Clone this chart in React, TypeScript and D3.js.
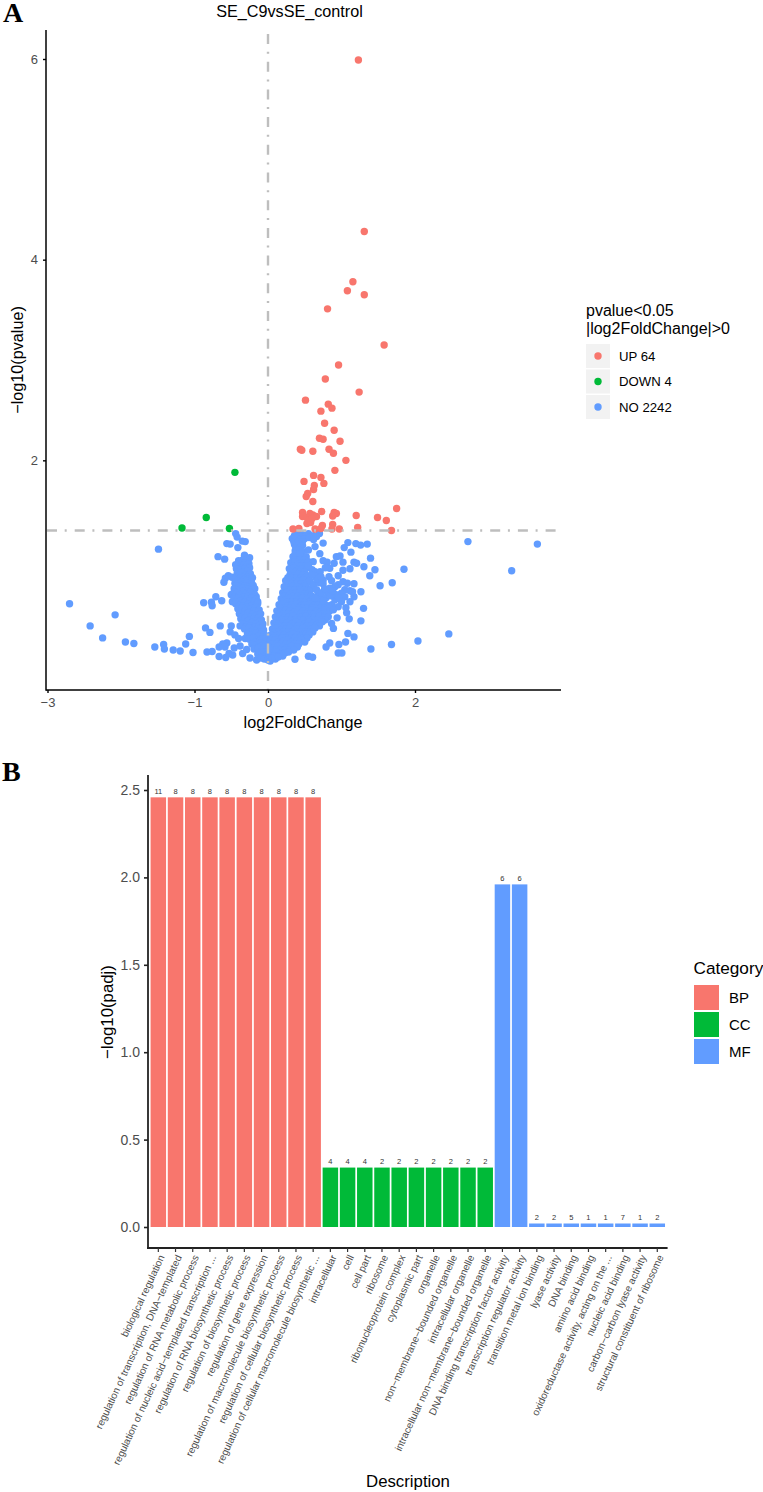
import React, { useEffect, useRef } from "react";
import { axisBottom, axisLeft, scaleBand, scaleLinear, select } from "d3";

const W = 763;
const H = 1492;
const red = "#F8766D";
const green = "#00BA38";
const blue = "#619CFF";
const sans = "'Liberation Sans', Arial, sans-serif";
const serif = "'Liberation Serif', 'Times New Roman', serif";

// volcano plot, [log2FoldChange, -log10(pvalue)]
const upPoints = [
  [1.23, 5.99], [1.31, 4.28], [1.155, 3.78], [1.08, 3.69], [1.31, 3.65], [0.81, 3.51], [1.58, 3.15], [0.96, 2.95],
  [0.78, 2.81], [1.24, 2.68], [0.51, 2.6], [0.82, 2.56], [0.87, 2.52], [0.72, 2.49], [0.77, 2.37], [0.9, 2.3],
  [0.7, 2.22], [0.75, 2.21], [0.98, 2.19], [0.44, 2.11], [0.46, 2.1], [0.61, 2.09], [0.83, 2.11], [0.89, 2.07],
  [1.06, 2.0], [0.91, 1.9], [0.62, 1.85], [0.72, 1.83], [0.49, 1.79], [0.76, 1.77], [0.63, 1.75], [0.62, 1.71],
  [0.54, 1.67], [0.52, 1.64], [0.61, 1.59], [1.75, 1.52], [0.47, 1.48], [0.73, 1.49], [0.9, 1.48], [0.93, 1.47],
  [0.88, 1.445], [1.2, 1.45], [1.49, 1.43], [1.61, 1.4], [0.47, 1.44], [0.57, 1.47], [0.61, 1.455], [0.66, 1.44],
  [0.53, 1.43], [0.56, 1.405], [0.53, 1.37], [0.58, 1.38], [0.74, 1.35], [0.88, 1.36], [1.22, 1.33], [0.34, 1.315],
  [0.42, 1.32], [0.64, 1.315], [0.97, 1.315], [1.68, 1.3], [0.87, 1.315], [0.72, 1.32], [0.55, 1.4], [0.6, 1.42],
];
const downPoints = [[-0.45, 1.88], [-0.84, 1.43], [-1.17, 1.325], [-0.525, 1.32]];

const noLeftSparse = [
  [-1.49, 1.115], [-2.7, 0.57], [-2.08, 0.46], [-2.42, 0.35], [-2.25, 0.23], [-1.94, 0.19], [-1.825, 0.175],
  [-1.54, 0.14], [-1.42, 0.165], [-1.41, 0.12], [-1.29, 0.11], [-1.195, 0.1], [-1.12, 0.17], [-1.07, 0.245],
  [-1.02, 0.085], [-0.83, 0.09], [-0.76, 0.095], [-0.85, 0.33], [-0.79, 0.285], [-0.65, 0.35], [-0.875, 0.58],
  [-0.77, 0.585], [-0.76, 0.55], [-0.71, 0.64], [-0.63, 0.6], [-0.68, 1.04], [-0.59, 1.015], [-0.56, 1.17],
  [-0.515, 1.165], [-0.41, 1.13], [-0.44, 1.27], [-0.42, 1.235], [-0.35, 1.195], [-0.31, 1.19], [-0.32, 1.055],
  [-0.25, 1.03], [-0.54, 0.85], [-0.58, 0.825], [-0.6, 0.785], [-0.49, 0.835], [-0.45, 0.775], [-0.5, 0.66],
  [-0.485, 0.59], [-0.5, 0.35], [-0.515, 0.29], [-0.45, 0.26], [-0.38, 0.35], [-0.4, 0.225], [-0.56, 0.18],
  [-0.615, 0.17], [-0.665, 0.14], [-0.585, 0.14], [-0.46, 0.13], [-0.38, 0.15], [-0.665, 0.045], [-0.575, 0.035],
  [-0.53, 0.075], [-0.48, 0.06], [-0.345, 0.075], [-0.29, 0.115], [-0.245, 0.03], [-0.155, 0.01], [-0.31, 0.225],
];
const noLeftDense = [
  [-0.4, 1.0], [-0.34, 1.01], [-0.28, 0.99], [-0.37, 0.98], [-0.31, 0.98],
  [-0.44, 0.96], [-0.38, 0.95], [-0.32, 0.96], [-0.26, 0.97], [-0.41, 0.94], [-0.35, 0.93], [-0.29, 0.94],
  [-0.43, 0.92], [-0.37, 0.91], [-0.31, 0.92], [-0.25, 0.93], [-0.4, 0.89], [-0.34, 0.89], [-0.28, 0.9],
  [-0.42, 0.87], [-0.36, 0.88], [-0.3, 0.86], [-0.24, 0.87], [-0.39, 0.85], [-0.33, 0.84], [-0.27, 0.84],
  [-0.44, 0.82], [-0.38, 0.83], [-0.32, 0.81], [-0.26, 0.82], [-0.21, 0.83], [-0.41, 0.8], [-0.35, 0.79], [-0.29, 0.8], [-0.23, 0.79],
  [-0.4, 0.77], [-0.34, 0.76], [-0.28, 0.78], [-0.22, 0.77], [-0.43, 0.75], [-0.37, 0.74], [-0.31, 0.75], [-0.25, 0.74], [-0.2, 0.75],
  [-0.46, 0.72], [-0.4, 0.71], [-0.34, 0.73], [-0.28, 0.72], [-0.22, 0.71], [-0.18, 0.72], [-0.45, 0.69], [-0.39, 0.69], [-0.33, 0.7], [-0.27, 0.69], [-0.21, 0.69],
  [-0.48, 0.67], [-0.42, 0.68], [-0.36, 0.66], [-0.3, 0.67], [-0.24, 0.68], [-0.18, 0.66], [-0.45, 0.64], [-0.39, 0.65], [-0.33, 0.64], [-0.27, 0.65], [-0.21, 0.64], [-0.16, 0.64],
  [-0.46, 0.62], [-0.4, 0.63], [-0.34, 0.61], [-0.28, 0.62], [-0.22, 0.63], [-0.16, 0.61], [-0.43, 0.59], [-0.37, 0.6], [-0.31, 0.59], [-0.25, 0.6], [-0.19, 0.59], [-0.14, 0.59],
  [-0.44, 0.57], [-0.38, 0.56], [-0.32, 0.58], [-0.26, 0.57], [-0.2, 0.56], [-0.14, 0.57], [-0.4, 0.54], [-0.34, 0.55], [-0.28, 0.54], [-0.22, 0.55], [-0.16, 0.54],
  [-0.41, 0.52], [-0.35, 0.53], [-0.29, 0.51], [-0.23, 0.52], [-0.17, 0.53], [-0.12, 0.51], [-0.37, 0.49], [-0.31, 0.5], [-0.25, 0.49], [-0.19, 0.5], [-0.14, 0.49],
  [-0.39, 0.47], [-0.33, 0.46], [-0.27, 0.48], [-0.21, 0.47], [-0.15, 0.46], [-0.1, 0.47], [-0.35, 0.44], [-0.29, 0.45], [-0.23, 0.44], [-0.17, 0.45], [-0.12, 0.44],
  [-0.37, 0.42], [-0.31, 0.43], [-0.25, 0.41], [-0.19, 0.42], [-0.13, 0.43], [-0.09, 0.41], [-0.33, 0.39], [-0.27, 0.4], [-0.21, 0.39], [-0.15, 0.4], [-0.11, 0.39],
  [-0.34, 0.37], [-0.28, 0.36], [-0.22, 0.38], [-0.16, 0.37], [-0.1, 0.36], [-0.07, 0.37], [-0.3, 0.34], [-0.24, 0.35], [-0.18, 0.34], [-0.12, 0.35], [-0.08, 0.34],
  [-0.32, 0.32], [-0.26, 0.33], [-0.2, 0.31], [-0.14, 0.32], [-0.08, 0.33], [-0.06, 0.31], [-0.23, 0.29], [-0.17, 0.3], [-0.11, 0.29], [-0.07, 0.29],
  [-0.28, 0.27], [-0.22, 0.26], [-0.16, 0.28], [-0.1, 0.27], [-0.05, 0.26], [-0.19, 0.24], [-0.13, 0.25], [-0.07, 0.24], [-0.03, 0.25],
  [-0.26, 0.22], [-0.2, 0.23], [-0.14, 0.21], [-0.08, 0.22], [-0.03, 0.23], [-0.17, 0.19], [-0.11, 0.2], [-0.06, 0.19], [-0.02, 0.2],
  [-0.22, 0.17], [-0.16, 0.16], [-0.1, 0.18], [-0.05, 0.17], [-0.02, 0.16], [-0.13, 0.14], [-0.08, 0.15], [-0.04, 0.14],
  [-0.19, 0.12], [-0.13, 0.13], [-0.07, 0.11], [-0.02, 0.12], [-0.1, 0.09], [-0.05, 0.09], [-0.01, 0.09],
  [-0.14, 0.07], [-0.08, 0.08], [-0.03, 0.06], [-0.07, 0.04], [-0.02, 0.04],
  [-0.1, 0.03], [-0.05, 0.02], [0, 0.01], [0.03, 0.0],
];
const noRightSparse = [
  [2.72, 1.19], [3.665, 1.165], [3.315, 0.9], [1.85, 0.915], [1.69, 0.78], [1.525, 0.75], [1.455, 0.91], [1.385, 0.85],
  [1.305, 0.94], [1.395, 1.025], [1.35, 1.165], [1.26, 1.155], [1.195, 1.17], [1.087, 1.18], [1.128, 1.085],
  [1.037, 1.13], [2.46, 0.27], [2.04, 0.2], [1.68, 0.165], [1.4, 0.12], [1.264, 0.4], [1.3, 0.525], [1.264, 0.69],
  [1.17, 0.77], [1.17, 0.64], [1.105, 0.42], [1.07, 0.48], [1.06, 0.53], [1.087, 0.275], [1.17, 0.24], [1.055, 0.19],
  [0.965, 0.165], [0.84, 0.18], [0.79, 0.14], [0.955, 0.08], [1.005, 0.08], [0.55, 0.047], [0.607, 0.037],
  [0.367, 0.017], [0.75, 1.175], [0.705, 1.07], [0.64, 1.14], [0.55, 1.107], [0.93, 1.04], [0.98, 1.047], [1.02, 0.985],
  [0.9, 0.975], [0.805, 0.985], [0.75, 1.0], [1.17, 0.985], [1.205, 0.975], [1.02, 0.905], [1.115, 0.92], [0.955, 0.85],
  [0.84, 0.925], [0.75, 0.805], [0.865, 0.8], [0.75, 0.77], [1.02, 0.79], [1.08, 0.775], [0.955, 0.76], [0.91, 0.74],
  [0.84, 0.725], [0.82, 0.675], [1.045, 0.71], [1.115, 0.7], [1.15, 0.69], [1.0, 0.675], [1.045, 0.64], [1.115, 0.59],
  [1.0, 0.59], [0.91, 0.61], [0.955, 0.54], [0.89, 0.51], [0.94, 0.43], [0.89, 0.325], [0.865, 0.375], [0.615, 0.99],
  [0.55, 0.95], [0.64, 0.89], [0.71, 0.89], [0.78, 0.93], [0.57, 0.8], [0.68, 0.66], [0.59, 0.72],
  [0.62, 0.76], [0.66, 0.71], [0.7, 0.78], [0.73, 0.68], [0.77, 0.72], [0.79, 0.63], [0.85, 0.65], [0.93, 0.66],
  [0.66, 0.82], [0.6, 0.86], [0.72, 0.84], [0.83, 0.84], [0.88, 0.7], [0.96, 0.63], [0.76, 0.6], [0.64, 0.63],
];
const noRightDense = [
  [0.4, 1.27], [0.47, 1.26], [0.55, 1.27], [0.62, 1.25], [0.7, 1.27], [0.36, 1.25], [0.43, 1.24], [0.51, 1.24], [0.58, 1.24], [0.66, 1.24],
  [0.33, 1.22], [0.38, 1.23], [0.44, 1.21], [0.5, 1.22], [0.56, 1.23], [0.62, 1.21], [0.35, 1.19], [0.41, 1.19], [0.47, 1.19],
  [0.36, 1.16], [0.42, 1.17], [0.47, 1.15], [0.38, 1.13], [0.44, 1.13], [0.37, 1.1], [0.42, 1.11], [0.47, 1.09],
  [0.34, 1.04], [0.4, 1.05], [0.47, 1.03], [0.52, 1.04], [0.37, 1.07], [0.43, 1.07], [0.37, 1.01], [0.43, 1.01], [0.49, 1.01],
  [0.31, 0.98], [0.37, 0.99], [0.43, 0.97], [0.49, 0.98], [0.55, 0.99], [0.34, 0.95], [0.4, 0.95], [0.46, 0.95], [0.52, 0.95],
  [0.29, 0.92], [0.35, 0.93], [0.41, 0.91], [0.47, 0.92], [0.53, 0.93], [0.6, 0.91], [0.32, 0.89], [0.38, 0.89], [0.44, 0.89], [0.5, 0.89],
  [0.3, 0.86], [0.36, 0.85], [0.42, 0.87], [0.48, 0.86], [0.54, 0.85], [0.66, 0.86], [0.27, 0.83], [0.33, 0.83], [0.39, 0.83], [0.45, 0.83], [0.51, 0.83],
  [0.24, 0.8], [0.3, 0.81], [0.36, 0.79], [0.42, 0.8], [0.48, 0.81], [0.56, 0.79], [0.27, 0.77], [0.33, 0.77], [0.39, 0.77], [0.45, 0.77], [0.51, 0.77],
  [0.22, 0.74], [0.28, 0.73], [0.34, 0.75], [0.4, 0.74], [0.46, 0.73], [0.52, 0.75], [0.25, 0.71], [0.31, 0.71], [0.37, 0.71], [0.43, 0.71], [0.49, 0.71], [0.55, 0.71],
  [0.2, 0.68], [0.26, 0.69], [0.32, 0.67], [0.38, 0.68], [0.44, 0.69], [0.5, 0.67], [0.56, 0.68], [0.23, 0.65], [0.29, 0.65], [0.35, 0.65], [0.41, 0.65], [0.47, 0.65], [0.53, 0.65], [0.59, 0.65],
  [0.18, 0.62], [0.24, 0.61], [0.3, 0.63], [0.36, 0.62], [0.42, 0.61], [0.48, 0.63], [0.54, 0.62], [0.6, 0.61], [0.72, 0.62], [0.21, 0.59], [0.27, 0.59], [0.33, 0.59], [0.39, 0.59], [0.45, 0.59], [0.51, 0.59], [0.57, 0.59], [0.63, 0.59], [0.69, 0.59],
  [0.15, 0.56], [0.21, 0.57], [0.27, 0.55], [0.33, 0.56], [0.39, 0.57], [0.45, 0.55], [0.51, 0.56], [0.57, 0.57], [0.63, 0.55], [0.69, 0.56], [0.75, 0.57], [0.81, 0.55], [0.87, 0.56],
  [0.18, 0.53], [0.24, 0.53], [0.3, 0.53], [0.36, 0.53], [0.42, 0.53], [0.48, 0.53], [0.54, 0.53], [0.6, 0.53], [0.66, 0.53], [0.72, 0.53], [0.78, 0.53], [0.84, 0.53],
  [0.12, 0.5], [0.18, 0.49], [0.24, 0.51], [0.3, 0.5], [0.36, 0.49], [0.42, 0.51], [0.48, 0.5], [0.54, 0.49], [0.6, 0.51], [0.66, 0.5], [0.72, 0.49], [0.78, 0.51], [0.84, 0.5],
  [0.15, 0.47], [0.21, 0.47], [0.27, 0.47], [0.33, 0.47], [0.39, 0.47], [0.45, 0.47], [0.51, 0.47], [0.57, 0.47], [0.63, 0.47], [0.69, 0.47], [0.75, 0.47], [0.81, 0.47],
  [0.1, 0.44], [0.16, 0.45], [0.22, 0.43], [0.28, 0.44], [0.34, 0.45], [0.4, 0.43], [0.46, 0.44], [0.52, 0.45], [0.58, 0.43], [0.64, 0.44], [0.7, 0.45], [0.76, 0.43], [0.82, 0.44],
  [0.13, 0.41], [0.19, 0.41], [0.25, 0.41], [0.31, 0.41], [0.37, 0.41], [0.43, 0.41], [0.49, 0.41], [0.55, 0.41], [0.61, 0.41], [0.67, 0.41], [0.73, 0.41], [0.78, 0.41],
  [0.08, 0.38], [0.14, 0.37], [0.2, 0.39], [0.26, 0.38], [0.32, 0.37], [0.38, 0.39], [0.44, 0.38], [0.5, 0.37], [0.56, 0.39], [0.62, 0.38], [0.68, 0.37], [0.74, 0.39],
  [0.11, 0.35], [0.17, 0.35], [0.23, 0.35], [0.29, 0.35], [0.35, 0.35], [0.41, 0.35], [0.47, 0.35], [0.53, 0.35], [0.59, 0.35], [0.65, 0.35], [0.7, 0.35],
  [0.06, 0.32], [0.12, 0.33], [0.18, 0.31], [0.24, 0.32], [0.3, 0.33], [0.36, 0.31], [0.42, 0.32], [0.48, 0.33], [0.54, 0.31], [0.6, 0.32], [0.64, 0.33],
  [0.09, 0.29], [0.15, 0.29], [0.21, 0.29], [0.27, 0.29], [0.33, 0.29], [0.39, 0.29], [0.45, 0.29], [0.51, 0.29], [0.57, 0.29], [0.61, 0.29],
  [0.04, 0.26], [0.1, 0.25], [0.16, 0.27], [0.22, 0.26], [0.28, 0.25], [0.34, 0.27], [0.4, 0.26], [0.46, 0.25], [0.52, 0.27], [0.56, 0.26],
  [0.07, 0.23], [0.13, 0.23], [0.19, 0.23], [0.25, 0.23], [0.31, 0.23], [0.37, 0.23], [0.43, 0.23], [0.49, 0.23], [0.53, 0.23],
  [0.03, 0.2], [0.09, 0.21], [0.15, 0.19], [0.21, 0.2], [0.27, 0.21], [0.33, 0.19], [0.39, 0.2], [0.45, 0.21], [0.5, 0.19],
  [0.06, 0.17], [0.12, 0.17], [0.18, 0.17], [0.24, 0.17], [0.3, 0.17], [0.36, 0.17], [0.42, 0.17],
  [0.02, 0.14], [0.08, 0.13], [0.14, 0.15], [0.2, 0.14], [0.26, 0.13], [0.32, 0.15], [0.4, 0.14],
  [0.05, 0.11], [0.11, 0.11], [0.17, 0.11], [0.23, 0.11], [0.29, 0.11], [0.35, 0.11],
  [0.05, 0.08], [0.11, 0.09], [0.17, 0.07], [0.23, 0.08], [0.28, 0.09], [0.02, 0.06], [0.08, 0.05], [0.14, 0.05], [0.2, 0.05],
  [0.06, 0.03], [0.1, 0.02], [0.14, 0.04],
];

const volcanoXTicks = [-3, -1, 0, 2];
const volcanoYTicks = [2, 4, 6];
const volcanoLegend = [
  { label: "UP 64", color: red },
  { label: "DOWN 4", color: green },
  { label: "NO 2242", color: blue },
];

// GO enrichment bars
const descriptions = [
  "biological regulation",
  "regulation of transcription, DNA\u2212templated",
  "regulation of RNA metabolic process",
  "regulation of nucleic acid\u2212templated transcription ...",
  "regulation of RNA biosynthetic process",
  "regulation of biosynthetic process",
  "regulation of gene expression",
  "regulation of macromolecule biosynthetic process",
  "regulation of cellular biosynthetic process",
  "regulation of cellular macromolecule biosynthetic ...",
  "intracellular",
  "cell",
  "cell part",
  "ribosome",
  "ribonucleoprotein complex",
  "cytoplasmic part",
  "organelle",
  "non\u2212membrane\u2212bounded organelle",
  "intracellular organelle",
  "intracellular non\u2212membrane\u2212bounded organelle",
  "DNA binding transcription factor activity",
  "transcription regulator activity",
  "transition metal ion binding",
  "lyase activity",
  "DNA binding",
  "amino acid binding",
  "oxidoreductase activity, acting on the ...",
  "nucleic acid binding",
  "carbon\u2212carbon lyase activity",
  "structural constituent of ribosome",
];
const padjValues = [
  2.458, 2.458, 2.458, 2.458, 2.458, 2.458, 2.458, 2.458, 2.458, 2.458,
  0.34, 0.34, 0.34, 0.34, 0.34, 0.34, 0.34, 0.34, 0.34, 0.34,
  1.96, 1.96, 0.02, 0.02, 0.02, 0.02, 0.02, 0.02, 0.02, 0.02,
];
const geneCounts = [11, 8, 8, 8, 8, 8, 8, 8, 8, 8, 4, 4, 4, 2, 2, 2, 2, 2, 2, 2, 6, 6, 2, 2, 5, 1, 1, 7, 1, 2];
const categories = ["BP", "CC", "MF"];
const categoryOf = descriptions.map((_, i) => (i < 10 ? "BP" : i < 20 ? "CC" : "MF"));
const categoryColors = [red, green, blue];
const barYTicks = [0, 0.5, 1, 1.5, 2, 2.5];

const vx = scaleLinear().domain([-3, 2]).range([47.5, 415]);
const vy = scaleLinear().domain([0, 6]).range([661, 59]);
const bx = scaleBand<number>()
  .domain(descriptions.map((_, i) => i))
  .range([148, 667.6])
  .paddingInner(0.1)
  .paddingOuter(0.15);
const by = scaleLinear().domain([0, 2.5]).range([1227, 790]);

function Axis({ make, transform, size, color, width }) {
  const ref = useRef(null);
  useEffect(() => {
    const g = select(ref.current);
    g.call(make);
    g.selectAll("text").attr("font-family", sans).attr("font-size", size).attr("fill", "#4D4D4D");
    g.selectAll("line").attr("stroke", color).attr("stroke-width", width);
    g.select(".domain").attr("stroke", "none");
  }, []);
  return <g ref={ref} transform={transform} />;
}

const minus = (v: number) => String(v).replace("-", "\u2212");

function Dots({ points, color }) {
  return (
    <>
      {points.map((d, i) => (
        <circle key={i} cx={vx(d[0])} cy={vy(d[1])} r={3.7} fill={color} />
      ))}
    </>
  );
}

function Volcano() {
  return (
    <g fontFamily={sans}>
      <text x={3} y={22} fontFamily={serif} fontWeight="bold" fontSize={28}>A</text>
      <text x={289.5} y={17} textAnchor="middle" fontSize={16.2}>SE_C9vsSE_control</text>
      <Dots points={noLeftSparse} color={blue} />
      <Dots points={noLeftDense} color={blue} />
      <Dots points={noRightDense} color={blue} />
      <Dots points={noRightSparse} color={blue} />
      <Dots points={upPoints} color={red} />
      <Dots points={downPoints} color={green} />
      <line x1={47} x2={561} y1={vy(1.3)} y2={vy(1.3)} stroke="#BEBEBE" strokeWidth={2.4} strokeDasharray="10 7.7 2 8" />
      <line x1={vx(0)} x2={vx(0)} y1={34} y2={690} stroke="#BEBEBE" strokeWidth={2.4} strokeDasharray="10 7.7 2 8" />
      <Axis
        make={axisLeft(vy).tickValues(volcanoYTicks).tickFormat(minus).tickSize(3).tickPadding(5).tickSizeOuter(0)}
        transform="translate(46,0)"
        size={13}
        color="#000"
        width={1.4}
      />
      <line x1={46} x2={46} y1={30} y2={690.7} stroke="#000" strokeWidth={1.5} />
      <Axis
        make={axisBottom(vx).tickValues(volcanoXTicks).tickFormat(minus).tickSize(3).tickPadding(5).tickSizeOuter(0)}
        transform="translate(0,690)"
        size={13}
        color="#000"
        width={1.4}
      />
      <line x1={46} x2={561} y1={690} y2={690} stroke="#000" strokeWidth={1.5} />
      <text x={303} y={727.5} textAnchor="middle" fontSize={16.2}>log2FoldChange</text>
      <text transform="translate(23,360) rotate(-90)" textAnchor="middle" fontSize={16.2}>{"\u2212log10(pvalue)"}</text>
      <text x={586} y={316} fontSize={16}>pvalue&lt;0.05</text>
      <text x={586} y={334} fontSize={16}>|log2FoldChange|&gt;0</text>
      {volcanoLegend.map((d, i) => (
        <g key={d.label} transform={`translate(586,${344 + i * 25.5})`}>
          <rect width={24} height={24} fill="#F2F2F2" />
          <circle cx={12} cy={12} r={3.7} fill={d.color} />
          <text x={33} y={16.5} fontSize={13.2}>{d.label}</text>
        </g>
      ))}
    </g>
  );
}

function Bars() {
  return (
    <g fontFamily={sans}>
      <text x={2} y={781} fontFamily={serif} fontWeight="bold" fontSize={28}>B</text>
      {descriptions.map((name, i) => (
        <g key={name}>
          <rect
            x={bx(i)}
            y={by(padjValues[i])}
            width={bx.bandwidth()}
            height={by(0) - by(padjValues[i])}
            fill={categoryColors[categories.indexOf(categoryOf[i])]}
          />
          <text x={bx(i) + bx.bandwidth() / 2} y={by(padjValues[i]) - 3.5} textAnchor="middle" fontSize={7.5} fill="#333">
            {geneCounts[i]}
          </text>
        </g>
      ))}
      <Axis
        make={axisLeft(by).tickValues(barYTicks).tickFormat((v: number) => v.toFixed(1)).tickSize(4).tickPadding(4).tickSizeOuter(0)}
        transform="translate(148,0)"
        size={14}
        color="#222"
        width={1.6}
      />
      <line x1={148} x2={148} y1={775} y2={1249} stroke="#222" strokeWidth={1.8} />
      <line x1={147} x2={667.6} y1={1248} y2={1248} stroke="#222" strokeWidth={1.8} />
      {descriptions.map((name, i) => {
        const x = bx(i) + bx.bandwidth() / 2;
        return (
          <g key={name}>
            <line x1={x} x2={x} y1={1248} y2={1252} stroke="#333" strokeWidth={1.2} />
            <text transform={`translate(${x + 6.5},1257) rotate(-65)`} textAnchor="end" fontSize={10.1} fill="#4D4D4D">
              {name}
            </text>
          </g>
        );
      })}
      <text x={408} y={1487} textAnchor="middle" fontSize={16.8}>Description</text>
      <text transform="translate(113,1012) rotate(-90)" textAnchor="middle" fontSize={16.8}>{"\u2212log10(padj)"}</text>
      <text x={693.5} y={974} fontSize={17.2}>Category</text>
      {categories.map((c, i) => (
        <g key={c} transform={`translate(694,${985 + i * 27})`}>
          <rect width={25} height={25} fill={categoryColors[i]} />
          <text x={35} y={18} fontSize={15}>{c}</text>
        </g>
      ))}
    </g>
  );
}

export default function App() {
  return (
    <svg width={W} height={H} style={{ position: "absolute", left: 0, top: 0, background: "#fff" }}>
      <Volcano />
      <Bars />
    </svg>
  );
}
